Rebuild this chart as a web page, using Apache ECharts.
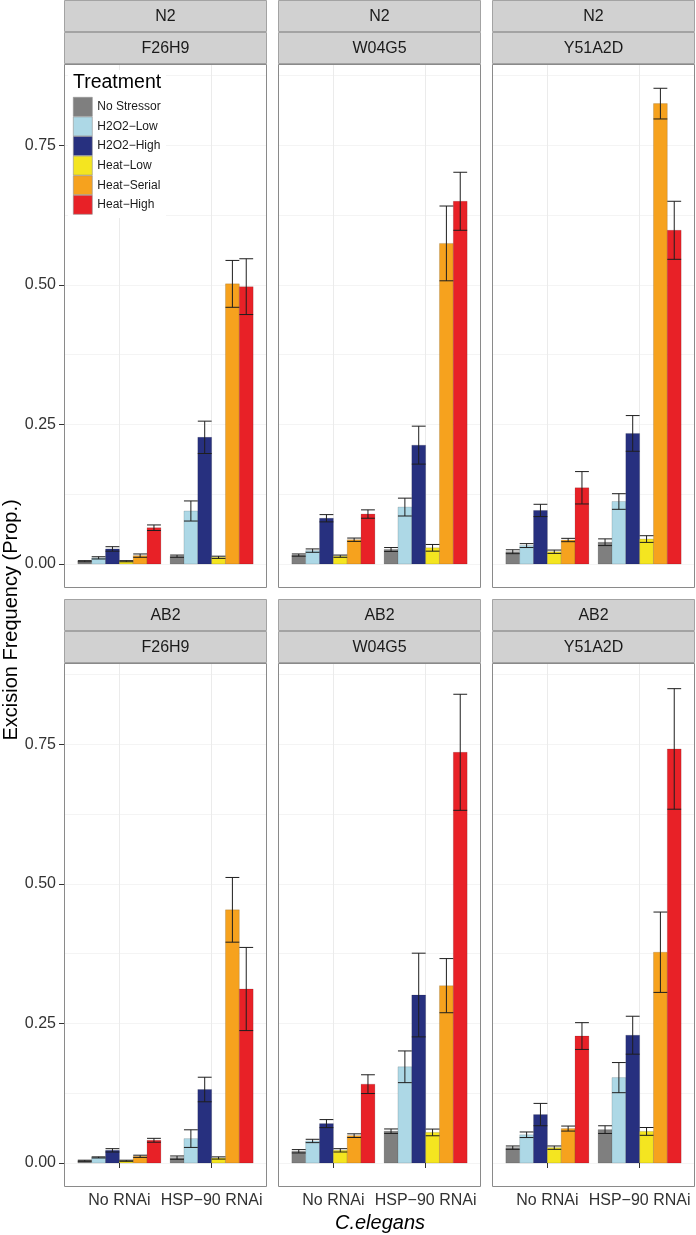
<!DOCTYPE html>
<html><head><meta charset="utf-8">
<script src="https://cdn.jsdelivr.net/npm/echarts@6/dist/echarts.min.js"></script>
<style>html,body{margin:0;padding:0;background:#fff}#c{width:696px;height:1235px}</style>
</head><body><div id="c"></div>
<script>
// ---------- data ----------
const treatments = ['No Stressor', 'H2O2\u2212Low', 'H2O2\u2212High', 'Heat\u2212Low', 'Heat\u2212Serial', 'Heat\u2212High'];
const treatmentColors = ['#7f7f7f', '#add8e6', '#27307f', '#f4e520', '#f6a21e', '#e82127'];
const strains = ['N2', 'AB2'];
const genes = ['F26H9', 'W04G5', 'Y51A2D'];
const rnaiGroups = ['No RNAi', 'HSP\u221290 RNAi'];
const yTickValues = [0, 0.25, 0.5, 0.75];

// means (treatment order as above)
const N2_F26H9_noRNAi  = [0.005, 0.011, 0.027, 0.005, 0.015, 0.065];
const N2_F26H9_hsp90   = [0.014, 0.095, 0.227, 0.012, 0.502, 0.497];
const N2_W04G5_noRNAi  = [0.016, 0.024, 0.082, 0.014, 0.0435, 0.0895];
const N2_W04G5_hsp90   = [0.026, 0.102, 0.213, 0.029, 0.5745, 0.650];
const N2_Y51A2D_noRNAi = [0.022, 0.033, 0.096, 0.022, 0.043, 0.1366];
const N2_Y51A2D_hsp90  = [0.039, 0.112, 0.234, 0.0447, 0.825, 0.598];
const AB2_F26H9_noRNAi  = [0.004, 0.010, 0.0227, 0.004, 0.012, 0.0407];
const AB2_F26H9_hsp90   = [0.0096, 0.0437, 0.1317, 0.009, 0.4537, 0.3118];
const AB2_W04G5_noRNAi  = [0.021, 0.0395, 0.0706, 0.0227, 0.049, 0.1413];
const AB2_W04G5_hsp90   = [0.057, 0.1724, 0.301, 0.0548, 0.3178, 0.736];
const AB2_Y51A2D_noRNAi = [0.0275, 0.0506, 0.0868, 0.0275, 0.0617, 0.2275];
const AB2_Y51A2D_hsp90  = [0.0598, 0.153, 0.229, 0.0566, 0.3777, 0.742];

// standard errors
const N2_F26H9_noRNAi_se  = [0.001, 0.002, 0.004, 0.001, 0.003, 0.005];
const N2_F26H9_hsp90_se   = [0.002, 0.018, 0.029, 0.002, 0.042, 0.050];
const N2_W04G5_noRNAi_se  = [0.002, 0.003, 0.0065, 0.002, 0.003, 0.0075];
const N2_W04G5_hsp90_se   = [0.0035, 0.016, 0.034, 0.006, 0.067, 0.052];
const N2_Y51A2D_noRNAi_se = [0.0035, 0.0035, 0.011, 0.003, 0.003, 0.029];
const N2_Y51A2D_hsp90_se  = [0.006, 0.014, 0.032, 0.006, 0.0275, 0.052];
const AB2_F26H9_noRNAi_se  = [0.001, 0.001, 0.003, 0.001, 0.002, 0.0035];
const AB2_F26H9_hsp90_se   = [0.003, 0.0158, 0.022, 0.002, 0.058, 0.0745];
const AB2_W04G5_noRNAi_se  = [0.003, 0.003, 0.0072, 0.003, 0.0033, 0.0168];
const AB2_W04G5_hsp90_se   = [0.004, 0.0284, 0.075, 0.006, 0.0485, 0.104];
const AB2_Y51A2D_noRNAi_se = [0.003, 0.005, 0.02, 0.003, 0.0045, 0.024];
const AB2_Y51A2D_hsp90_se  = [0.0069, 0.027, 0.034, 0.007, 0.072, 0.108];

const panelMeans = [
  [N2_F26H9_noRNAi, N2_F26H9_hsp90], [N2_W04G5_noRNAi, N2_W04G5_hsp90], [N2_Y51A2D_noRNAi, N2_Y51A2D_hsp90],
  [AB2_F26H9_noRNAi, AB2_F26H9_hsp90], [AB2_W04G5_noRNAi, AB2_W04G5_hsp90], [AB2_Y51A2D_noRNAi, AB2_Y51A2D_hsp90]
];
const panelSE = [
  [N2_F26H9_noRNAi_se, N2_F26H9_hsp90_se], [N2_W04G5_noRNAi_se, N2_W04G5_hsp90_se], [N2_Y51A2D_noRNAi_se, N2_Y51A2D_hsp90_se],
  [AB2_F26H9_noRNAi_se, AB2_F26H9_hsp90_se], [AB2_W04G5_noRNAi_se, AB2_W04G5_hsp90_se], [AB2_Y51A2D_noRNAi_se, AB2_Y51A2D_hsp90_se]
];

// ---------- layout ----------
const FONT = '"Liberation Sans", Arial, Helvetica, sans-serif';
const colLeft = [64, 278, 492];
const colRight = [267, 481, 695];
const panelTop = [64, 663];
const panelBottom = [588, 1187];
const STRIP_H = 32;
const BELOW_ZERO = 24;
const Y_MAX = 0.896;
const BW = 0.15;

const grids = [], xAxes = [], yAxes = [], series = [], graphics = [];

for (let i = 0; i < 6; i++) {
  const r = Math.floor(i / 3), c = i % 3;
  const left = colLeft[c], width = colRight[c] - colLeft[c];
  const top = panelTop[r], height = panelBottom[r] - BELOW_ZERO - panelTop[r];
  grids.push({left: left, top: top, width: width, height: height, containLabel: false});
  const bottomRow = r === 1;
  xAxes.push({
    type: 'value', gridIndex: i, min: 0.4, max: 2.6, offset: BELOW_ZERO,
    axisLine: {show: false},
    axisTick: {show: bottomRow, length: 5, customValues: [1, 2], lineStyle: {color: '#333', width: 1}},
    axisLabel: {show: bottomRow, customValues: [1, 2], margin: 6, fontSize: 16, color: '#333', fontFamily: FONT,
      formatter: v => rnaiGroups[Math.round(v) - 1] || ''},
    splitLine: {show: true, lineStyle: {color: '#ebebeb', width: 1}}
  });
  yAxes.push({
    type: 'value', gridIndex: i, min: 0, max: Y_MAX,
    axisLine: {show: false},
    axisTick: {show: c === 0, length: 5, customValues: yTickValues, lineStyle: {color: '#333', width: 1}},
    axisLabel: {show: c === 0, customValues: yTickValues, margin: 8, fontSize: 16, color: '#333', fontFamily: FONT,
      formatter: v => v.toFixed(2)},
    splitLine: {show: true, lineStyle: {color: '#ebebeb', width: 1}}
  });
  yAxes.push({
    type: 'value', gridIndex: i, min: 0, max: Y_MAX, interval: 0.125,
    axisLine: {show: false}, axisTick: {show: false}, axisLabel: {show: false},
    splitLine: {show: true, lineStyle: {color: '#f4f4f4', width: 1}}
  });

  for (let t = 0; t < 6; t++) {
    series.push({
      type: 'custom', name: treatments[t], xAxisIndex: i, yAxisIndex: 2 * i,
      itemStyle: {color: treatmentColors[t]}, silent: true, z: 3,
      data: [[1, panelMeans[i][0][t]], [2, panelMeans[i][1][t]]],
      renderItem: function (params, api) {
        const cat = api.value(0), v = api.value(1);
        const x0 = cat - 0.45 + t * BW;
        const p0 = api.coord([x0, v]), p1 = api.coord([x0 + BW, 0]);
        return {type: 'rect', shape: {x: p0[0], y: p0[1], width: p1[0] - p0[0], height: p1[1] - p0[1]},
          style: {fill: api.visual('color'), stroke: 'rgba(0,0,0,0.22)', lineWidth: 0.6}};
      }
    });
  }
  const errData = [];
  for (let g = 0; g < 2; g++) for (let t = 0; t < 6; t++) errData.push([g + 1, t, panelMeans[i][g][t], panelSE[i][g][t]]);
  series.push({
    type: 'custom', name: 'error', xAxisIndex: i, yAxisIndex: 2 * i, silent: true, z: 4,
    dimensions: ['cat', 't', 'mean', 'se'], encode: {x: 'cat', y: 'mean'},
    data: errData,
    renderItem: function (params, api) {
      const cat = api.value(0), t = api.value(1), m = api.value(2), s = api.value(3);
      const cx = cat - 0.45 + (t + 0.5) * BW;
      const pt = api.coord([cx, m + s]), pb = api.coord([cx, m - s]);
      const xl = api.coord([cx - BW / 2, m])[0], xr = api.coord([cx + BW / 2, m])[0];
      const st = {stroke: '#1e1e1e', lineWidth: 1};
      return {type: 'group', children: [
        {type: 'line', shape: {x1: pt[0], y1: pt[1], x2: pb[0], y2: pb[1]}, style: st},
        {type: 'line', shape: {x1: xl, y1: pt[1], x2: xr, y2: pt[1]}, style: st},
        {type: 'line', shape: {x1: xl, y1: pb[1], x2: xr, y2: pb[1]}, style: st}
      ]};
    }
  });

  // panel border
  graphics.push({type: 'rect', z: 20, silent: true,
    shape: {x: left + 0.5, y: top + 0.5, width: width - 1, height: panelBottom[r] - top - 1},
    style: {fill: 'none', stroke: '#8a8a8a', lineWidth: 1}});
  // strips
  const stripTexts = [strains[r], genes[c]];
  for (let k = 0; k < 2; k++) {
    const sy = top - STRIP_H * (2 - k);
    graphics.push({type: 'rect', z: 20, silent: true,
      shape: {x: left + 0.5, y: sy + 0.5, width: width - 1, height: STRIP_H - 1},
      style: {fill: '#d1d1d1', stroke: '#a3a3a3', lineWidth: 1}});
    graphics.push({type: 'text', z: 21, silent: true, x: left + width / 2, y: sy + STRIP_H / 2 + 1,
      style: {text: stripTexts[k], font: '16px ' + FONT, fill: '#1a1a1a', textAlign: 'center', textVerticalAlign: 'middle'}});
  }
}

// legend background + title
graphics.push({type: 'rect', z: 1, silent: true, shape: {x: 68, y: 70, width: 98, height: 148}, style: {fill: '#fff'}});
graphics.push({type: 'text', z: 21, silent: true, x: 73, y: 83,
  style: {text: 'Treatment', font: '19.5px ' + FONT, fill: '#000', textAlign: 'left', textVerticalAlign: 'middle'}});
// axis titles
graphics.push({type: 'text', z: 21, silent: true, x: 11, y: 620, rotation: Math.PI / 2,
  style: {text: 'Excision Frequency (Prop.)', font: '20px ' + FONT, fill: '#000', textAlign: 'center', textVerticalAlign: 'middle'}});
graphics.push({type: 'text', z: 21, silent: true, x: 380, y: 1223,
  style: {text: 'C.elegans', font: 'italic 20px ' + FONT, fill: '#000', textAlign: 'center', textVerticalAlign: 'middle'}});

const chart = echarts.init(document.getElementById('c'), null, {renderer: 'canvas'});
chart.setOption({
  animation: false,
  backgroundColor: '#fff',
  grid: grids, xAxis: xAxes, yAxis: yAxes, series: series,
  legend: {
    data: treatments, orient: 'vertical', left: 73, top: 97, padding: 0,
    itemWidth: 19, itemHeight: 19, itemGap: 0, itemTextGap: 4, icon: 'rect', selectedMode: false, z: 22,
    textStyle: {fontSize: 12, color: '#1a1a1a', fontFamily: FONT},
    itemStyle: {borderColor: '#8f8f8f', borderWidth: 0.6}
  },
  graphic: graphics
});
</script></body></html>
